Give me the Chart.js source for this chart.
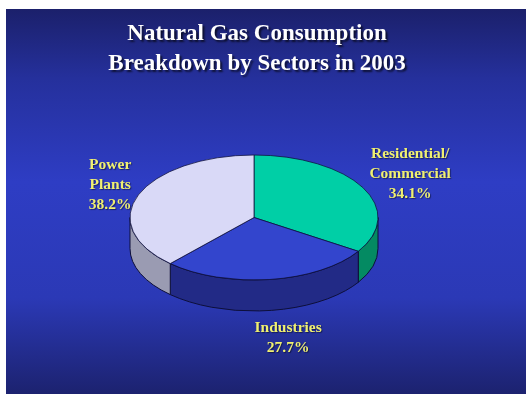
<!DOCTYPE html>
<html>
<head>
<meta charset="utf-8">
<script src="https://cdn.jsdelivr.net/npm/chart.js@4.4.1/dist/chart.umd.min.js"></script>
<style>
  html, body { margin: 0; padding: 0; background: #fff; }
  #wrap { width: 526px; height: 394px; }
</style>
</head>
<body>
<div id="wrap"><canvas id="gasChart" width="526" height="394"></canvas></div>
<script>
// data
const titleLines = ["Natural Gas Consumption", "Breakdown by Sectors in 2003"];
const sectors = ["Residential/Commercial", "Industries", "Power Plants"];
const sectorLines = [["Residential/", "Commercial"], ["Industries"], ["Power", "Plants"]];
const shares = [34.1, 27.7, 38.2];

// styles
const topColors = ["#00cfa6", "#3345cd", "#d9d9f7"];
const sideColors = ["#048a62", "#222a86", "#9a9bb2"];
const edgeColor = "#0d0f3a";
const tilt = 0.504;   // ellipse height / width
const depth = 31;     // wall height in px

const pie3d = {
  id: "pie3d",
  beforeDraw(chart) {
    const ctx = chart.ctx;
    ctx.save();
    ctx.fillStyle = "#ffffff";
    ctx.fillRect(0, 0, chart.width, chart.height);
    const g = ctx.createLinearGradient(0, 9, 0, chart.height);
    g.addColorStop(0, "#1b206b");
    g.addColorStop(0.18, "#25309c");
    g.addColorStop(0.45, "#2e3dc4");
    g.addColorStop(0.75, "#2b39b6");
    g.addColorStop(1, "#1c226f");
    ctx.fillStyle = g;
    ctx.fillRect(6, 9, chart.width - 6, chart.height - 9);

    ctx.font = "bold 23px 'Liberation Serif', 'Times New Roman', serif";
    ctx.textAlign = "center";
    ctx.textBaseline = "middle";
    ctx.fillStyle = "#ffffff";
    ctx.shadowColor = "rgba(0,0,0,0.65)";
    ctx.shadowOffsetX = 2;
    ctx.shadowOffsetY = 2;
    ctx.shadowBlur = 2;
    titleLines.forEach((t, i) => ctx.fillText(t, 257, 34 + i * 30));
    ctx.restore();
  },
  beforeDatasetsDraw(chart) {
    const ctx = chart.ctx;
    const arcs = chart.getDatasetMeta(0).data;
    const { x: cx, y: cy, outerRadius: r } = arcs[0].getProps(["x", "y", "outerRadius"]);
    const ry = r * tilt;

    ctx.save();
    ctx.lineWidth = 1;
    ctx.strokeStyle = edgeColor;
    arcs.forEach((arc, i) => {
      const { startAngle, endAngle } = arc.getProps(["startAngle", "endAngle"]);
      [0, 2 * Math.PI, -2 * Math.PI].forEach(off => {
        const a = Math.max(startAngle + off, 0);
        const b = Math.min(endAngle + off, Math.PI);
        if (b <= a) return;
        ctx.beginPath();
        ctx.ellipse(cx, cy, r, ry, 0, a, b);
        ctx.lineTo(cx + r * Math.cos(b), cy + ry * Math.sin(b) + depth);
        ctx.ellipse(cx, cy + depth, r, ry, 0, b, a, true);
        ctx.closePath();
        ctx.fillStyle = sideColors[i];
        ctx.fill();
        ctx.stroke();
      });
    });
    ctx.restore();

    // squash the flat pie into the top face
    ctx.save();
    ctx.translate(0, cy);
    ctx.scale(1, tilt);
    ctx.translate(0, -cy);
  },
  afterDatasetsDraw(chart) {
    const ctx = chart.ctx;
    ctx.restore();

    const arcs = chart.getDatasetMeta(0).data;
    ctx.save();
    ctx.font = "bold 15.5px 'Liberation Serif', 'Times New Roman', serif";
    ctx.textAlign = "center";
    ctx.textBaseline = "middle";
    ctx.fillStyle = "#f0f070";
    ctx.shadowColor = "rgba(0,0,0,0.45)";
    ctx.shadowOffsetX = 1;
    ctx.shadowOffsetY = 1;
    ctx.shadowBlur = 1;
    arcs.forEach((arc, i) => {
      const { x: cx, y: cy, outerRadius: r, startAngle, endAngle } =
        arc.getProps(["x", "y", "outerRadius", "startAngle", "endAngle"]);
      const mid = (startAngle + endAngle) / 2;
      const c = Math.cos(mid), s = Math.sin(mid);
      const lines = sectorLines[i].concat([shares[i].toFixed(1) + "%"]);
      const w = Math.max(...lines.map(l => ctx.measureText(l).width));
      const lx = cx + c * r * 1.06 + Math.sign(c) * Math.min(1, Math.abs(c) * 4) * w / 2;
      let ly = cy + s * r * tilt * 1.45;
      if (s > 0) ly += depth;
      const lh = 20;
      lines.forEach((l, j) => {
        ctx.fillText(l, lx, ly + (j - (lines.length - 1) / 2) * lh);
      });
    });
    ctx.restore();
  }
};

new Chart(document.getElementById("gasChart"), {
  type: "pie",
  data: {
    labels: sectors,
    datasets: [{
      data: shares,
      backgroundColor: topColors,
      borderColor: edgeColor,
      borderWidth: 1,
      radius: 124
    }]
  },
  options: {
    responsive: false,
    animation: false,
    events: [],
    layout: { padding: { left: 0, right: 18, top: 41, bottom: 0 } },
    plugins: {
      legend: { display: false },
      title: { display: false },
      tooltip: { enabled: false }
    }
  },
  plugins: [pie3d]
});
</script>
</body>
</html>
